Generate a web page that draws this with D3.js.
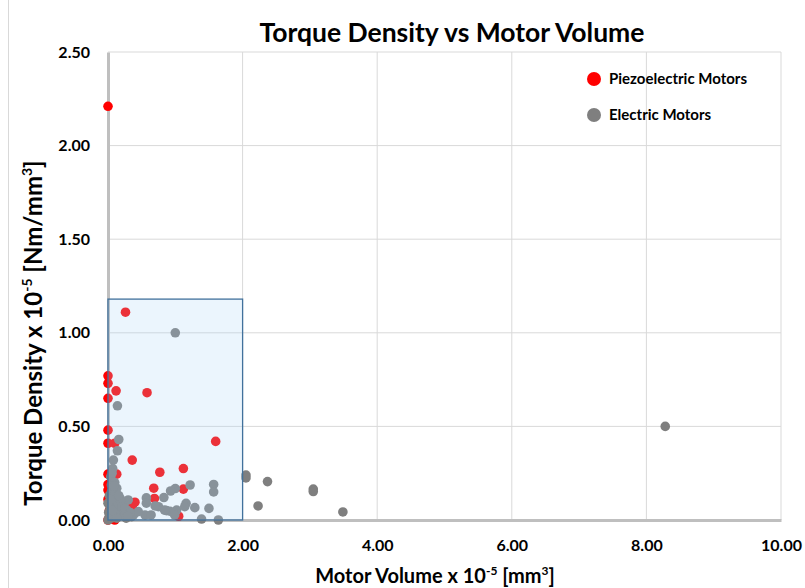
<!DOCTYPE html>
<html>
<head>
<meta charset="utf-8">
<script src="https://cdn.jsdelivr.net/npm/d3@7"></script>
<style>
  body { margin: 0; background: #fff; }
  text { font-family: Lato, "Open Sans", sans-serif; font-weight: bold; fill: #000; }
</style>
</head>
<body>
<div id="chart"></div>
<script>
(function () {
  var width = 805, height = 588;
  var margin = {top: 52, right: 24, bottom: 68, left: 108};

  // x = motor volume (x 1e-5 mm3), y = torque density (x 1e-5 Nm/mm3)
  var piezoX = [0.00, 0.26, 0.00, 0.00, 0.12, 0.00, 0.58, 0.00, 0.00, 0.10,
                1.60, 0.36, 0.77, 1.12, 0.00, 0.13, 0.00, 0.00, 0.05, 0.68,
                1.12, 0.69, 0.40, 0.36, 1.05, 0.00, 0.10, 0.02, 0.00, 0.06];
  var piezoY = [2.21, 1.11, 0.77, 0.73, 0.69, 0.65, 0.68, 0.48, 0.41, 0.41,
                0.42, 0.32, 0.255, 0.275, 0.245, 0.245, 0.19, 0.16, 0.16, 0.17,
                0.165, 0.115, 0.095, 0.07, 0.02, 0.00, 0.00, 0.05, 0.11, 0.01];

  var electricX = [1.00, 0.14, 0.16, 0.14, 0.08, 0.07, 0.04, 8.28, 2.05, 2.05,
                   2.37, 3.05, 3.05, 2.23, 3.49, 1.57, 1.57, 1.22, 1.00, 0.93,
                   0.83, 0.57, 0.57, 1.16, 1.29, 1.50, 1.39, 1.64, 1.02, 0.92,
                   0.75, 0.70, 0.87, 0.55, 0.38, 0.35, 0.28, 0.23, 0.18, 0.13,
                   0.05, 0.30, 0.45, 0.64, 0.99, 1.14, 0.84,
                   0.00, 0.02, 0.05, 0.08, 0.11, 0.14, 0.17, 0.20, 0.24, 0.27,
                   0.03, 0.06, 0.09, 0.12, 0.15, 0.19, 0.02, 0.05, 0.10, 0.00,
                   0.01, 0.13, 0.21, 0.25, 0.33, 0.30, 0.07, 0.04, 0.16, 0.10,
                   0.06, 0.09];
  var electricY = [1.00, 0.61, 0.43, 0.37, 0.32, 0.275, 0.23, 0.50, 0.24, 0.225,
                   0.205, 0.165, 0.152, 0.075, 0.043, 0.19, 0.15, 0.187, 0.168, 0.155,
                   0.12, 0.118, 0.09, 0.089, 0.066, 0.062, 0.005, 0.00, 0.053, 0.047,
                   0.071, 0.075, 0.05, 0.027, 0.027, 0.018, 0.053, 0.089, 0.116, 0.17,
                   0.187, 0.107, 0.045, 0.027, 0.027, 0.071, 0.053,
                   0.00, 0.02, 0.01, 0.03, 0.05, 0.03, 0.06, 0.04, 0.02, 0.01,
                   0.06, 0.09, 0.12, 0.10, 0.08, 0.10, 0.13, 0.15, 0.14, 0.09,
                   0.04, 0.01, 0.07, 0.06, 0.04, 0.02, 0.05, 0.11, 0.13, 0.20,
                   0.25, 0.18];

  var xTicks = [0, 2, 4, 6, 8, 10];
  var yTicks = [0, 0.5, 1.0, 1.5, 2.0, 2.5];
  var region = {x0: 0, x1: 2.0, y0: 0, y1: 1.18};

  var svg = d3.select("#chart").append("svg")
    .attr("width", width)
    .attr("height", height);

  svg.append("rect")
    .attr("x", 8.5).attr("y", -1)
    .attr("width", width - 8).attr("height", height + 2)
    .attr("fill", "none").attr("stroke", "#d9d9d9");

  var x = d3.scaleLinear().domain([0, 10]).range([margin.left, width - margin.right]);
  var y = d3.scaleLinear().domain([0, 2.5]).range([height - margin.bottom, margin.top]);

  // grid
  svg.append("g").selectAll("line.h").data(yTicks.slice(1)).enter().append("line")
    .attr("x1", x(0)).attr("x2", x(10))
    .attr("y1", function (d) { return y(d); }).attr("y2", function (d) { return y(d); })
    .attr("stroke", "#d9d9d9").attr("stroke-width", 1);
  svg.append("g").selectAll("line.v").data(xTicks.slice(1)).enter().append("line")
    .attr("y1", y(0)).attr("y2", y(2.5))
    .attr("x1", function (d) { return x(d); }).attr("x2", function (d) { return x(d); })
    .attr("stroke", "#d9d9d9").attr("stroke-width", 1);

  // axes
  var xAxis = svg.append("g")
    .attr("transform", "translate(0," + y(0) + ")")
    .call(d3.axisBottom(x).tickValues(xTicks).tickFormat(d3.format(".2f")).tickSize(0).tickPadding(20));
  xAxis.select(".domain").attr("stroke", "#bfbfbf").attr("stroke-width", 3);
  xAxis.selectAll("text").style("font-size", "16px");

  var yAxis = svg.append("g")
    .attr("transform", "translate(" + x(0) + ",0)")
    .call(d3.axisLeft(y).tickValues(yTicks).tickFormat(d3.format(".2f")).tickSize(0).tickPadding(18));
  yAxis.select(".domain").attr("stroke", "#bfbfbf").attr("stroke-width", 3);
  yAxis.selectAll("text").style("font-size", "16px");

  // points
  var piezo = piezoX.map(function (v, i) { return {x: v, y: piezoY[i]}; });
  var electric = electricX.map(function (v, i) { return {x: v, y: electricY[i]}; });

  svg.append("g").selectAll("circle").data(piezo).enter().append("circle")
    .attr("cx", function (d) { return x(d.x); })
    .attr("cy", function (d) { return y(d.y); })
    .attr("r", 4.8)
    .attr("fill", "#ff0000");

  svg.append("g").selectAll("circle").data(electric).enter().append("circle")
    .attr("cx", function (d) { return x(d.x); })
    .attr("cy", function (d) { return y(d.y); })
    .attr("r", 4.8)
    .attr("fill", "#7f7f7f");

  // highlighted region on top
  svg.append("rect")
    .attr("x", x(region.x0)).attr("y", y(region.y1))
    .attr("width", x(region.x1) - x(region.x0))
    .attr("height", y(region.y0) - y(region.y1))
    .attr("fill", "rgb(170,210,246)").attr("fill-opacity", 0.23)
    .attr("stroke", "#41719c").attr("stroke-width", 1.3);

  // title
  svg.append("text")
    .attr("x", 452).attr("y", 42)
    .attr("text-anchor", "middle")
    .style("font-size", "26.5px")
    .text("Torque Density vs Motor Volume");

  // axis titles
  var xt = svg.append("text")
    .attr("x", 435).attr("y", 583)
    .attr("text-anchor", "middle")
    .style("font-size", "20px");
  xt.append("tspan").text("Motor Volume x 10");
  xt.append("tspan").attr("dy", -8).style("font-size", "12px").text("-5");
  xt.append("tspan").attr("dy", 8).text(" [mm");
  xt.append("tspan").attr("dy", -8).style("font-size", "12px").text("3");
  xt.append("tspan").attr("dy", 8).text("]");

  var yt = svg.append("text")
    .attr("transform", "translate(42,333) rotate(-90)")
    .attr("text-anchor", "middle")
    .style("font-size", "24px");
  yt.append("tspan").text("Torque Density x 10");
  yt.append("tspan").attr("dy", -10).style("font-size", "14px").text("-5");
  yt.append("tspan").attr("dy", 10).text(" [Nm/mm");
  yt.append("tspan").attr("dy", -10).style("font-size", "14px").text("3");
  yt.append("tspan").attr("dy", 10).text("]");

  // legend
  var legendItems = [
    {label: "Piezoelectric Motors", color: "#ff0000", cy: 79},
    {label: "Electric Motors", color: "#7f7f7f", cy: 115}
  ];
  var lg = svg.append("g").selectAll("g").data(legendItems).enter().append("g");
  lg.append("circle")
    .attr("cx", 594).attr("cy", function (d) { return d.cy; })
    .attr("r", 7).attr("fill", function (d) { return d.color; });
  lg.append("text")
    .attr("x", 609).attr("y", function (d) { return d.cy + 5; })
    .style("font-size", "15px")
    .text(function (d) { return d.label; });
})();
</script>
</body>
</html>
